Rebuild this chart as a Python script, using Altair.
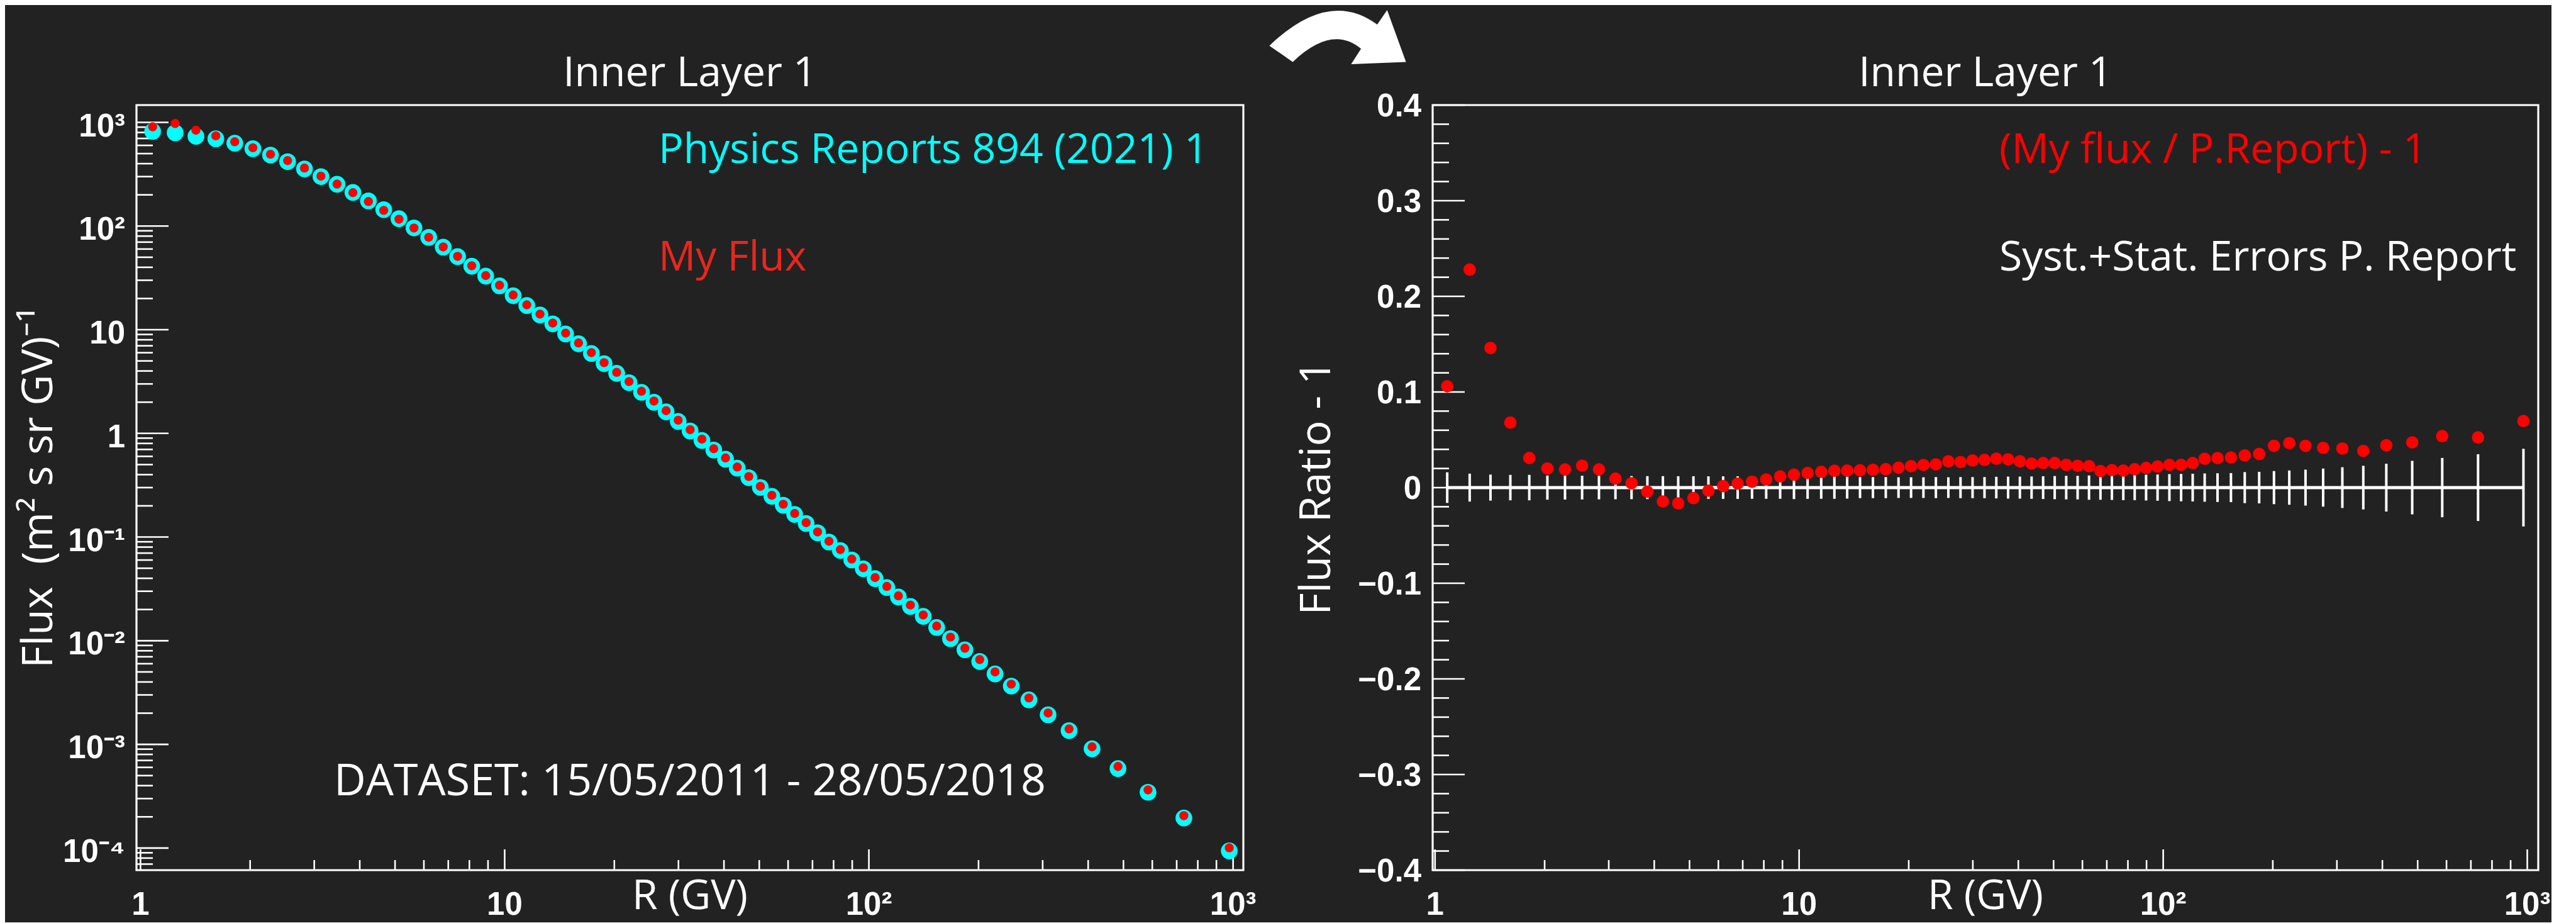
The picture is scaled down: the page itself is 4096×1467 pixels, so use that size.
import altair as alt
import pandas as pd

# ---------------- data ----------------
# rigidity bin centres (GV)
R_GV = [1.08, 1.245, 1.42, 1.61, 1.815, 2.035, 2.275, 2.535, 2.82, 3.13, 3.465, 3.83,
        4.225, 4.655, 5.125, 5.635, 6.185, 6.78, 7.425, 8.12, 8.87, 9.68, 10.55, 11.5,
        12.5, 13.55, 14.7, 15.95, 17.3, 18.75, 20.3, 21.95, 23.75, 25.7, 27.75, 29.95,
        32.3, 34.8, 37.5, 40.4, 43.5, 46.8, 50.35, 54.15, 58.2, 62.55, 67.25, 72.3, 77.7,
        83.5, 89.75, 96.5, 104, 112, 120.5, 130, 141, 153.5, 167.5, 183.5, 201.5, 222,
        246, 275, 310.5, 354.5, 410, 483, 584, 732.5, 976]

# Physics Reports 894 (2021) 1 flux (cyan)
FLUX_PR = [819, 794, 734, 695, 630, 558, 484, 418, 356, 300, 253, 211, 175, 144, 117.7,
           96.0, 77.8, 62.6, 50.7, 41.0, 32.9, 26.5, 21.3, 17.1, 13.9, 11.4, 9.1, 7.32,
           5.9, 4.71, 3.795, 3.086, 2.49, 1.995, 1.612, 1.303, 1.055, 0.854, 0.691,
           0.5645, 0.462, 0.374, 0.301, 0.247, 0.2028, 0.1653, 0.1352, 0.110, 0.0895,
           0.0742, 0.0601, 0.04946, 0.03975, 0.0326, 0.02641, 0.02141, 0.01717, 0.01342,
           0.01048, 0.00817, 0.0063, 0.00478, 0.00365, 0.00269, 0.00193, 0.001358,
           0.000907, 0.000584, 0.000345, 0.000195, 0.0000939]

# My flux (red)
FLUX_MY = [906, 975, 841, 742, 650, 569, 493, 428, 363, 303, 254, 210.1, 172.5, 141.6,
           116.4, 95.7, 77.9, 62.9, 51.0, 41.35, 33.28, 26.86, 21.63, 17.38, 14.14, 11.60,
           9.265, 7.456, 6.014, 4.808, 3.880, 3.159, 2.550, 2.050, 1.655, 1.340, 1.0856,
           0.8798, 0.7115, 0.5800, 0.4736, 0.3836, 0.3087, 0.2529, 0.2074, 0.1690, 0.1376,
           0.1120, 0.0911, 0.07563, 0.06134, 0.05055, 0.04070, 0.03338, 0.02709, 0.02206,
           0.01770, 0.01384, 0.01083, 0.008458, 0.006575, 0.005002, 0.003810, 0.002802,
           0.002009, 0.001410, 0.000947, 0.000612, 0.0003636, 0.0002052, 0.0001004]

# (My flux / P.Report) - 1
RATIO = [0.106, 0.228, 0.146, 0.068, 0.031, 0.020, 0.019, 0.023, 0.019, 0.0094, 0.0046,
         -0.0042, -0.0145, -0.0165, -0.011, -0.0032, 0.0016, 0.0042, 0.0062, 0.0085,
         0.0117, 0.0135, 0.0153, 0.0165, 0.0176, 0.0178, 0.0181, 0.0186, 0.0193, 0.0208,
         0.0225, 0.0236, 0.0243, 0.0275, 0.0268, 0.0283, 0.029, 0.0302, 0.0296, 0.0275,
         0.0251, 0.0257, 0.0257, 0.0238, 0.0228, 0.0225, 0.0174, 0.0183, 0.0179, 0.0193,
         0.0206, 0.0221, 0.0238, 0.0238, 0.0257, 0.0302, 0.0309, 0.0315, 0.0337, 0.0352,
         0.0437, 0.0465, 0.0437, 0.0416, 0.0409, 0.0384, 0.0443, 0.0473, 0.0538, 0.0525,
         0.0696]

# Syst.+Stat. relative errors of P. Report
REL_ERR = [0.016, 0.0146, 0.0136, 0.0133, 0.0133, 0.0126, 0.0125, 0.0124, 0.0123, 0.0122,
           0.0121, 0.012, 0.012, 0.0119, 0.0119, 0.0118, 0.0118, 0.0118, 0.0117, 0.0117,
           0.01165, 0.0120, 0.01175, 0.01165, 0.0117, 0.0115, 0.011, 0.011, 0.011, 0.0108,
           0.0108, 0.0108, 0.011, 0.0108, 0.011, 0.011, 0.011, 0.0113, 0.0115, 0.0115,
           0.0117, 0.0119, 0.0121, 0.0123, 0.0123, 0.0127, 0.0127, 0.0129, 0.0131, 0.0131,
           0.0135, 0.0137, 0.0141, 0.0143, 0.0145, 0.0148, 0.0150, 0.0152, 0.0162, 0.0165,
           0.0173, 0.0179, 0.0188, 0.0199, 0.0213, 0.0228, 0.0250, 0.0280, 0.0310, 0.0349,
           0.0406]

# axis ticks / labels
FLUX_TICKS = [1e-4, 1e-3, 1e-2, 1e-1, 1.0, 10.0, 100.0, 1000.0]
FLUX_TICK_LABELS = ["10\u207b\u2074", "10\u207b\u00b3", "10\u207b\u00b2", "10\u207b\u00b9",
                    "1", "10", "10\u00b2", "10\u00b3"]
R_TICKS = [1.0, 10.0, 100.0, 1000.0]
R_TICK_LABELS = ["1", "10", "10\u00b2", "10\u00b3"]
RATIO_TICKS = [-0.4, -0.3, -0.2, -0.1, 0.0, 0.1, 0.2, 0.3, 0.4]
RATIO_TICK_LABELS = ["\u22120.4", "\u22120.3", "\u22120.2", "\u22120.1", "0",
                     "0.1", "0.2", "0.3", "0.4"]

TITLE = "Inner Layer 1"
X_TITLE = "R (GV)"
Y_TITLE_L = "Flux\u00a0 (m\u00b2 s sr GV)\u207b\u00b9"
Y_TITLE_R = "Flux Ratio - 1"
TXT_PR = "Physics Reports 894 (2021) 1"
TXT_MY = "My Flux"
TXT_DATASET = "DATASET: 15/05/2011 - 28/05/2018"
TXT_RATIO = "(My flux / P.Report) - 1"
TXT_ERR = "Syst.+Stat. Errors P. Report"

# ---------------- styling ----------------
BG = "#222222"
CYAN = "#00ffff"
RED = "#ff0000"
RED_TXT = "#e8261e"
LABEL_FONT = "Liberation Sans"
TEXT_FONT = "Open Sans"
W_L, W_R, H = 1760, 1758, 1216
LBL_SIZE = 51
TXT_SIZE = 66
AX_TITLE_SIZE = 66

flux_minor = [k * 10.0 ** n for n in range(-5, 3) for k in range(2, 10)
              if 6.12e-5 <= k * 10.0 ** n <= 1469]
r_minor = [k * 10.0 ** n for n in range(0, 3) for k in range(2, 10)]
ratio_minor = [round(-0.4 + 0.02 * i, 2) for i in range(41) if i % 5]

df = pd.DataFrame({"R": R_GV, "pr": FLUX_PR, "my": FLUX_MY, "ratio": RATIO,
                   "lo": [-e for e in REL_ERR], "hi": REL_ERR})
one = pd.DataFrame({"t": [""]})


def text_layer(txt, x, y, color, align="left", size=TXT_SIZE, angle=0):
    return alt.Chart(pd.DataFrame({"t": [txt]})).mark_text(
        align=align, baseline="alphabetic", font=TEXT_FONT, fontSize=size,
        color=color, angle=angle).encode(x=alt.value(x), y=alt.value(y), text="t:N")


def yticks(vals, scale, length):
    return alt.Chart(pd.DataFrame({"v": vals})).mark_rule(color="white", strokeWidth=2.6).encode(
        y=alt.Y("v:Q", scale=scale, axis=None), x=alt.value(0), x2=alt.value(length))


def xticks(vals, scale, length):
    return alt.Chart(pd.DataFrame({"v": vals})).mark_rule(color="white", strokeWidth=2.6).encode(
        x=alt.X("v:Q", scale=scale, axis=None), y=alt.value(H), y2=alt.value(H - length))


def ylabels(vals, labs, scale, dy):
    return alt.Chart(pd.DataFrame({"v": vals, "lab": labs})).mark_text(
        align="right", baseline="middle", font=LABEL_FONT, fontSize=LBL_SIZE,
        fontWeight="bold", color="white", dy=dy).encode(
        y=alt.Y("v:Q", scale=scale, axis=None), x=alt.value(-18), text="lab:N")


def xlabels(vals, labs, scale):
    return alt.Chart(pd.DataFrame({"v": vals, "lab": labs})).mark_text(
        align="center", baseline="top", font=LABEL_FONT, fontSize=LBL_SIZE,
        fontWeight="bold", color="white").encode(
        x=alt.X("v:Q", scale=scale, axis=None), y=alt.value(H + 31), text="lab:N")


# ---------------- left panel ----------------
xs_l = alt.Scale(type="log", domain=[0.975, 1067], nice=False)
ys_l = alt.Scale(type="log", domain=[6.12e-5, 1469], nice=False)

# tiny background-coloured corner mark that pins the layout origin
anchor = alt.Chart(one).mark_rect(color=BG).encode(
    x=alt.value(-207), x2=alt.value(-206), y=alt.value(-157.4), y2=alt.value(-156.4))

cyan_pts = alt.Chart(df).mark_circle(size=707, color=CYAN, opacity=1).encode(
    x=alt.X("R:Q", scale=xs_l, axis=None),
    y=alt.Y("pr:Q", scale=ys_l, axis=None))
red_pts = alt.Chart(df).mark_circle(size=209, color=RED, opacity=1).encode(
    x=alt.X("R:Q", scale=xs_l, axis=None),
    y=alt.Y("my:Q", scale=ys_l, axis=None))

left = alt.layer(
    anchor,
    yticks(FLUX_TICKS, ys_l, 51), yticks(flux_minor, ys_l, 26),
    xticks(R_TICKS, xs_l, 33), xticks(r_minor, xs_l, 16),
    ylabels(FLUX_TICKS, FLUX_TICK_LABELS, ys_l, 7),
    xlabels(R_TICKS, R_TICK_LABELS, xs_l),
    cyan_pts, red_pts,
    text_layer(TITLE, W_L / 2, -30, "white", "center"),
    text_layer(TXT_PR, 830, 92, CYAN),
    text_layer(TXT_MY, 830, 263, RED_TXT),
    text_layer(TXT_DATASET, W_L / 2, 1097, "white", "center", 70),
    text_layer(X_TITLE, W_L / 2, H + 62, "white", "center", AX_TITLE_SIZE),
    text_layer(Y_TITLE_L, -134, H / 2, "white", "center", 68, 270),
).properties(width=W_L, height=H)

# ---------------- right panel ----------------
xs_r = alt.Scale(type="log", domain=[0.985, 1072], nice=False)
ys_r = alt.Scale(domain=[-0.4, 0.4], nice=False, zero=False)

ARROW = ("M -1 0.126 Q -0.13 -0.711 0.579 -0.184 L 0.724 -0.395 L 1 0.363 "
         "L 0.197 0.395 L 0.342 0.171 Q -0.082 -0.187 -0.658 0.363 Z")
arrow = alt.Chart(one).mark_point(shape=ARROW, filled=True, fill="white", strokeWidth=0,
                                  opacity=1, size=47176).encode(
    x=alt.value(-151), y=alt.value(-108))

err_bars = alt.Chart(df).mark_rule(color="white", strokeWidth=4).encode(
    x=alt.X("R:Q", scale=xs_r, axis=None),
    y=alt.Y("lo:Q", scale=ys_r, axis=None), y2="hi:Q")
zero_line = alt.Chart(df).mark_line(color="white", strokeWidth=5).encode(
    x=alt.X("R:Q", scale=xs_r, axis=None), y=alt.datum(0, axis=None))
ratio_pts = alt.Chart(df).mark_circle(size=390, color=RED, opacity=1).encode(
    x=alt.X("R:Q", scale=xs_r, axis=None),
    y=alt.Y("ratio:Q", scale=ys_r, axis=None))

right = alt.layer(
    yticks(RATIO_TICKS, ys_r, 51), yticks(ratio_minor, ys_r, 26),
    xticks(R_TICKS, xs_r, 33), xticks(r_minor, xs_r, 16),
    ylabels(RATIO_TICKS, RATIO_TICK_LABELS, ys_r, 3),
    xlabels(R_TICKS, R_TICK_LABELS, xs_r),
    err_bars, zero_line, ratio_pts,
    arrow,
    text_layer(TITLE, W_R / 2, -30, "white", "center"),
    text_layer(TXT_RATIO, 901, 92, RED),
    text_layer(TXT_ERR, 901, 263, "white"),
    text_layer(X_TITLE, W_R / 2, H + 62, "white", "center", AX_TITLE_SIZE),
    text_layer(Y_TITLE_R, -163, H / 2, "white", "center", 68, 270),
).properties(width=W_R, height=H)

chart = alt.hconcat(left, right, spacing=301, bounds="flush").properties(
    background=BG, padding=0
).configure_view(stroke="white", strokeWidth=3.2)

chart.save("out.html", embed_options={"renderer": "svg", "actions": False})
